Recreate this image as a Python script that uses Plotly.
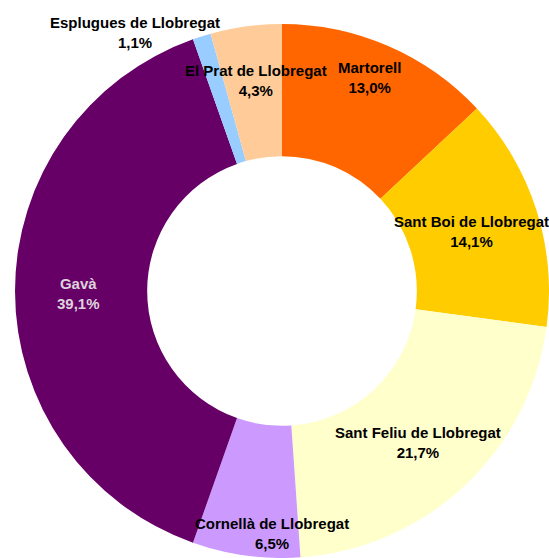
import plotly.graph_objects as go

labels = ["Martorell", "Sant Boi de Llobregat", "Sant Feliu de Llobregat",
          "Cornellà de Llobregat", "Gavà", "Esplugues de Llobregat", "El Prat de Llobregat"]
values = [13.0, 14.1, 21.7, 6.5, 39.1, 1.1, 4.3]
colors = ["#FF6600", "#FFCC00", "#FFFFCC", "#CC99FF", "#660066", "#99CCFF", "#FFCC99"]
pct_text = ["13,0%", "14,1%", "21,7%", "6,5%", "39,1%", "1,1%", "4,3%"]
# label anchor positions (pixels from top-left) and colours
label_pos = [(369, 78), (471, 232), (418, 442), (272, 533), (78, 293), (135, 33), (256, 80)]
label_col = ["#000000", "#000000", "#000000", "#000000", "#DDD3DD", "#000000", "#000000"]

W, H = 549, 558
cx, cy, R = 282, 291, 267

fig = go.Figure(go.Pie(
    labels=labels, values=values, sort=False, direction="clockwise", rotation=0,
    hole=0.505, marker=dict(colors=colors, line=dict(width=0)),
    textinfo="none", hoverinfo="label+percent", showlegend=False,
    domain=dict(x=[(cx - R) / W, (cx + R) / W], y=[(H - cy - R) / H, (H - cy + R) / H]),
))

for lab, pct, (px, py), col in zip(labels, pct_text, label_pos, label_col):
    fig.add_annotation(
        x=px / W, y=1 - py / H, xref="paper", yref="paper", showarrow=False,
        xanchor="center", yanchor="middle",
        text=f"<b>{lab}</b><br><b>{pct}</b>", align="center",
        font=dict(family="Liberation Sans Narrow, Arial Narrow, Liberation Sans, Arial", size=15, color=col),
    )

fig.update_layout(width=W, height=H, margin=dict(l=0, r=0, t=0, b=0, pad=0, autoexpand=False),
                  paper_bgcolor="white", plot_bgcolor="white")
fig.write_html("out.html", config={"displayModeBar": False},
               post_script="document.body.style.margin='0';document.body.style.overflow='hidden';")
